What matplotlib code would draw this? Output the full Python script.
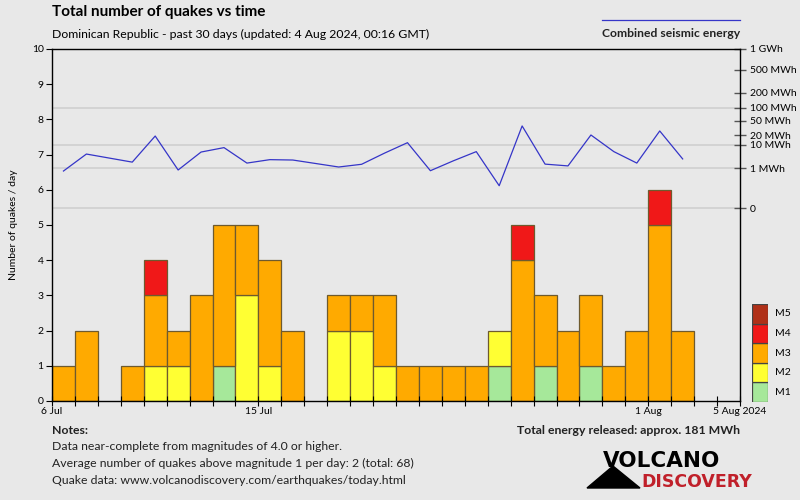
import matplotlib.pyplot as plt
import matplotlib.lines as mlines
import matplotlib.patches as mpatches
import numpy as np

plt.rcParams['font.family'] = ['Lato', 'DejaVu Sans']

# one entry per day, 6 Jul .. 4 Aug 2024
days = ["6 Jul", "7 Jul", "8 Jul", "9 Jul", "10 Jul", "11 Jul", "12 Jul", "13 Jul",
        "14 Jul", "15 Jul", "16 Jul", "17 Jul", "18 Jul", "19 Jul", "20 Jul", "21 Jul",
        "22 Jul", "23 Jul", "24 Jul", "25 Jul", "26 Jul", "27 Jul", "28 Jul", "29 Jul",
        "30 Jul", "31 Jul", "1 Aug", "2 Aug", "3 Aug", "4 Aug"]
m1 = [0, 0, 0, 0, 0, 0, 0, 1, 0, 0, 0, 0, 0, 0, 0, 0, 0, 0, 0, 1, 0, 1, 0, 1, 0, 0, 0, 0, 0, 0]
m2 = [0, 0, 0, 0, 1, 1, 0, 0, 3, 1, 0, 0, 2, 2, 1, 0, 0, 0, 0, 1, 0, 0, 0, 0, 0, 0, 0, 0, 0, 0]
m3 = [1, 2, 0, 1, 2, 1, 3, 4, 2, 3, 2, 0, 1, 1, 2, 1, 1, 1, 1, 0, 4, 2, 2, 2, 1, 2, 5, 2, 0, 0]
m4 = [0, 0, 0, 0, 1, 0, 0, 0, 0, 0, 0, 0, 0, 0, 0, 0, 0, 0, 0, 0, 1, 0, 0, 0, 0, 0, 1, 0, 0, 0]
m5 = [0] * 30
# daily seismic energy in MWh (None = no quakes)
energy = [0.68, 4.5, None, 2.0, 19.0, 0.78, 5.4, 7.9, 1.8, 2.6, 2.5, None, 1.14, 1.57,
          4.9, 11.7, 0.71, 2.3, 5.6, 0.054, 36.6, 1.6, 1.3, 20.4, 5.6, 1.8, 26.7, 2.8,
          None, None]

xtick_pos = [0, 9, 26, 30]
xtick_labels = ["6 Jul", "15 Jul", "1 Aug", "5 Aug 2024"]
e_ticks = [0, 1, 10, 20, 50, 100, 200, 500, 1000]
e_labels = ["0", "1 MWh", "10 MWh", "20 MWh", "50 MWh", "100 MWh", "200 MWh", "500 MWh", "1 GWh"]
e_grid = [0, 1, 10, 100]

mag_names = ["M1", "M2", "M3", "M4", "M5"]
mag_colors = ["#a6e89a", "#ffff33", "#ffaa00", "#f01818", "#b03018"]
edge = "#6e5a2e"
bg = "#e8e8e8"

fig = plt.figure(figsize=(8, 5), dpi=100, facecolor=bg)
rect = [52 / 800, 1 - 401 / 500, 688 / 800, 352 / 500]

# energy axis sits behind the bars
ax2 = fig.add_axes(rect)
ax2.set_facecolor(bg)
ax = fig.add_axes(rect, sharex=ax2)
ax.patch.set_visible(False)

x = np.arange(len(days))
bottom = np.zeros(len(days))
for vals, col in zip([m1, m2, m3, m4, m5], mag_colors):
    v = np.array(vals)
    nz = v > 0
    if nz.any():
        ax.bar(x[nz], v[nz], width=1, bottom=bottom[nz], align='edge', color=col,
               edgecolor=edge, linewidth=0.9)
    bottom += v

ax.set_xlim(0, 30)
ax.set_ylim(0, 10)
ax.set_yticks(range(11))
ax.set_xticks(range(31), minor=True)
ax.set_xticks(xtick_pos)
ax.set_xticklabels(xtick_labels)
ax.tick_params(axis='x', which='both', direction='inout', length=7, width=0.8,
               labelsize=7.5, pad=1)
ax.tick_params(axis='y', direction='out', length=4, width=0.8, labelsize=7.5, pad=2)
ax.set_ylabel("Number of quakes / day", fontsize=7.5, labelpad=10)
for s in ax.spines.values():
    s.set_linewidth(1)

# fifth-root energy scale
top = 1000 ** 0.2
lo = -top * 193 / 159
ax2.set_ylim(lo, top)
ax2.yaxis.tick_right()
ax2.set_yticks([e ** 0.2 for e in e_ticks])
ax2.set_yticklabels(e_labels)
ax2.tick_params(axis='y', direction='inout', length=8, width=1, color='#555555',
                labelsize=7.5, pad=3)
ax2.tick_params(axis='x', bottom=False, labelbottom=False)
for g in e_grid:
    ax2.axhline(g ** 0.2, color='#cfcfcf', lw=1.2, zorder=0)
ex = [i + 0.5 for i, e in enumerate(energy) if e is not None]
ey = [e ** 0.2 for e in energy if e is not None]
ax2.plot(ex, ey, color='#3535c8', lw=0.9)
for s in ax2.spines.values():
    s.set_visible(False)

# header
fig.text(52 / 800, 1 - 12 / 500, "Total number of quakes vs time", fontsize=11,
         fontweight='bold', va='center')
fig.text(52 / 800, 1 - 34 / 500,
         "Dominican Republic - past 30 days (updated: 4 Aug 2024, 00:16 GMT)",
         fontsize=8.8, va='center')
fig.text(740 / 800, 1 - 33 / 500, "Combined seismic energy", fontsize=8.7,
         fontweight='bold', va='center', ha='right', color='#222222')
fig.add_artist(mlines.Line2D([602 / 800, 740 / 800], [1 - 20 / 500, 1 - 20 / 500],
                             color='#3535c8', lw=0.9))

# magnitude legend
lax = fig.add_axes([752 / 800, 1 - 402 / 500, 16 / 800, 98 / 500])
lax.set_axis_off()
lax.set_xlim(0, 1)
lax.set_ylim(0, 5)
for i, (name, col) in enumerate(zip(mag_names, mag_colors)):
    lax.bar(0, 1, width=1, bottom=i, align='edge', color=col, edgecolor='#444444',
            linewidth=0.9)
    fig.text(775 / 800, (1 - 402 / 500) + (i + 0.5) * 98 / 500 / 5, name,
             fontsize=7.5, va='center')

# notes
fig.text(52 / 800, 1 - 431 / 500, "Notes:", fontsize=8.8, fontweight='bold', va='center',
         color='#222222')
notes = ["Data near-complete from magnitudes of 4.0 or higher.",
         "Average number of quakes above magnitude 1 per day: 2 (total: 68)",
         "Quake data: www.volcanodiscovery.com/earthquakes/today.html"]
for i, n in enumerate(notes):
    fig.text(52 / 800, 1 - (446 + 17 * i) / 500, n, fontsize=8.8, va='center',
             color='#222222')
fig.text(740 / 800, 1 - 431 / 500, "Total energy released: approx. 181 MWh", fontsize=8.8,
         fontweight='bold', va='center', ha='right', color='#222222')

# logo
tri = mpatches.Polygon([[587 / 800, 1 - 488 / 500], [640 / 800, 1 - 488 / 500],
                        [613 / 800, 1 - 466 / 500]], closed=True,
                       transform=fig.transFigure, color='black')
fig.add_artist(tri)
fig.text(662 / 800, 1 - 461 / 500, "VOLCANO", fontsize=15.5, fontweight='bold',
         ha='center', va='center', color='black', family='DejaVu Sans Condensed')
fig.text(697 / 800, 1 - 482 / 500, "DISCOVERY", fontsize=12.5, fontweight='bold',
         ha='center', va='center', color='#c0202a', family='DejaVu Sans Condensed')

fig.savefig("out.png", dpi=100, facecolor=bg)
